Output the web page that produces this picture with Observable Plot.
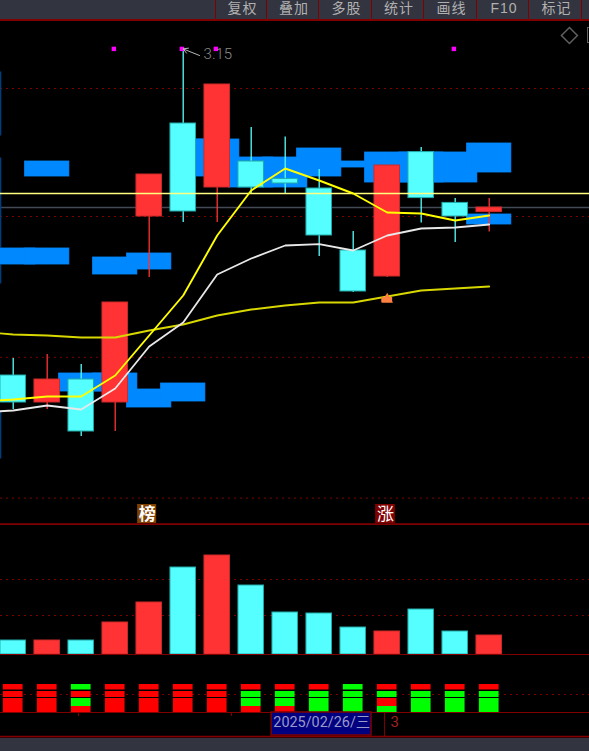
<!DOCTYPE html>
<html lang="zh">
<head>
<meta charset="utf-8">
<script src="https://cdn.jsdelivr.net/npm/d3@7"></script>
<script src="https://cdn.jsdelivr.net/npm/@observablehq/plot@0.6"></script>
<style>
html,body{margin:0;padding:0;background:#000;overflow:hidden}
#c{position:relative;width:589px;height:751px;background:#000;overflow:hidden}
#c svg{position:absolute;left:0;background:transparent;max-width:none}
.h{position:absolute}
.b{position:absolute;top:1px;height:14px;text-align:center;color:#b0b0b0;font:14px/14px "Liberation Sans","Noto Sans CJK SC",sans-serif;letter-spacing:1px}
</style>
</head>
<body>
<div id="c"></div>
<script>
const index = [0,1,2,3,4,5,6,7,8,9,10,11,12,13,14];
const open  = [2.3325,2.265,2.3225,2.265,2.73,2.9625,2.8025,2.8675,2.824,2.8,2.645,2.58,2.891,2.764,2.741];
const close = [2.265,2.3225,2.1925,2.515,2.835,2.7425,3.06,2.8025,2.8125,2.6825,2.5425,2.8575,2.776,2.73,2.7525];
const high  = [2.375,2.385,2.36,2.515,2.835,3.15,3.06,2.9525,2.929,2.8475,2.6925,2.8575,2.9025,2.775,2.775];
const low   = [2.2475,2.2475,2.18,2.1925,2.5775,2.715,2.715,2.7875,2.7875,2.63,2.54,2.5775,2.714,2.665,2.691];

const maIndex = [-1,0,1,2,3,4,5,6,7,8,9,10,11,12,13,14];
const ma5  = [2.2675,2.2725,2.28,2.28,2.3325,2.4325,2.5325,2.6825,2.795,2.85,2.82,2.7875,2.74,2.7375,2.72,2.7325];
const ma10 = [2.24,2.245,2.2575,2.2475,2.3,2.405,2.465,2.585,2.625,2.6575,2.661,2.645,2.6825,2.7,2.7025,2.71];
const ma60 = [2.4425,2.435,2.4325,2.4275,2.4275,2.445,2.46,2.4825,2.4975,2.5075,2.515,2.515,2.53,2.545,2.55,2.555];

const chipIndex = [-1,-1,-1,-1,0,1,1,2,3,3,4,4,5,5,6,7,8,9,10,11,12,13,14,14];
const chipLeft  = [.65,.65,.65,.65,.65,.65,.65,.65,.65,.65,.65,.65,.65,.3,.65,.65,.65,.65,.65,.65,.65,.65,.65,.65];
const chipTop   = [3.09,2.875,2.6075,2.24,2.65,2.8675,2.65,2.3375,2.6275,2.3375,2.6375,2.2975,2.3125,2.9225,2.9225,2.8775,2.8775,2.9,2.8675,2.89,2.89,2.89,2.9125,2.735];
const chipBot   = [2.9325,2.65,2.5625,2.125,2.61,2.83,2.61,2.2925,2.585,2.2925,2.5975,2.2525,2.2675,2.8525,2.83,2.8025,2.8025,2.83,2.8525,2.815,2.815,2.815,2.84,2.71];

const volume = [14,14,14,32,52,87,99,69,42,41,27,23,45,23,19];

const sig1 = ["r","r","g","r","r","r","r","r","r","r","g","r","r","r","r"];
const sig2 = ["r","r","r","r","r","r","r","g","g","g","g","g","g","g","g"];
const sig3 = ["r","r","g","r","r","r","r","g","g","g","g","r","g","g","g"];
const sig4 = ["r","r","r","r","r","r","r","r","r","g","g","g","g","g","g"];
const sigLow  = [22.5,15,6,0];
const sigHigh = [28,21,14,6];

const dotted = [3.05,2.73,2.378,2.026];
const volDotted = [75,39];
const sigDotted = [18];
const yellowLevel = [2.7875];
const greyLevel = [2.7525];
const marks = [3,5,6,13];
const menu = ["复权","叠加","多股","统计","画线","F10","标记"];
const seps = [215,266,318,371,423,476,528,581];

const CYAN="#55ffff", RED="#ff3333", BLUE="#0088ff", DK="#800000";
const xScale = {domain:[-12.7/34,576.3/34],range:[0,589],axis:null};
const base = {width:589,marginTop:0,marginRight:0,marginBottom:0,marginLeft:0,x:xScale};
const colorOf = i => close[i] >= open[i] ? RED : CYAN;
const edgeOf  = i => close[i] >= open[i] ? "#cc2a2a" : "#22aaaa";
const chips = chipIndex.map((_,k)=>k);
const chipX = {x1:k=>chipIndex[k]-chipLeft[k],x2:k=>chipIndex[k]+0.65,y1:k=>chipBot[k],y2:k=>chipTop[k]};

const host = document.getElementById("c");

/* price panel */
const price = Plot.plot({...base,height:525,
  y:{domain:[1.9575,3.27],range:[525,0],axis:null},
  style:{top:"0px",background:"transparent"},
  marks:[
    Plot.ruleY(dotted,{stroke:DK,strokeWidth:1,strokeDasharray:"2,4"}),
    Plot.ruleY(greyLevel,{stroke:"#444a55",strokeWidth:1.5}),
    Plot.rect(chips,{...chipX,fill:k=>chipIndex[k]<0?"#003f80":"#0070d0",stroke:k=>chipIndex[k]<0?"#003f80":"#0070d0",strokeWidth:1}),
    Plot.rect(chips,{...chipX,fill:k=>chipIndex[k]<0?"#003f80":BLUE}),
    Plot.ruleX(index,{x:i=>i,y1:i=>low[i],y2:i=>high[i],stroke:colorOf,strokeWidth:1.3}),
    Plot.rect(index,{x1:i=>i-0.375,x2:i=>i+0.375,y1:i=>open[i],y2:i=>close[i],fill:colorOf,stroke:edgeOf,strokeWidth:1}),
    Plot.ruleY(yellowLevel,{stroke:"#ffff80",strokeWidth:1.3}),
    Plot.line(maIndex,{x:i=>i,y:(_,k)=>ma60[k],stroke:"#d8d800",strokeWidth:1.9}),
    Plot.line(maIndex,{x:i=>i,y:(_,k)=>ma10[k],stroke:"#e8e8e8",strokeWidth:1.8}),
    Plot.line(maIndex,{x:i=>i,y:(_,k)=>ma5[k],stroke:"#ffff00",strokeWidth:1.9}),
    Plot.dot(marks,{x:i=>i-0.04,y:[3.149,3.149,3.149,3.149],symbol:"square",r:2.5,fill:"#ff00ff",stroke:"none"}),
    Plot.arrow([0],{x1:[5.48],y1:[3.1325],x2:[5.0],y2:[3.149],bend:0,headLength:8,stroke:"#b8b8b8",strokeWidth:1}),
    Plot.text(["3.15"],{x:[5.6],y:[3.135],text:d=>d,textAnchor:"start",fill:"#8c8c8c",fontSize:15,fontFamily:"Roboto",fontWeight:300}),
    Plot.rect([0],{x1:[10.84],x2:[11.16],y1:[2.515],y2:[2.5275],fill:"#ff8040"}),
    Plot.dot([11],{x:d=>d,y:[2.5225],symbol:"triangle",r:4.3,fill:"#ff8040",stroke:"none"}),
    Plot.dot([16.36],{x:d=>d,y:[3.1825],symbol:"diamond2",r:7.2,fill:"none",stroke:"#606060",strokeWidth:1.5}),
    Plot.rect([0],{x1:[3.66],x2:[4.22],y1:[1.9625],y2:[2.01],fill:"#804000"}),
    Plot.rect([0],{x1:[10.66],x2:[11.24],y1:[1.9625],y2:[2.01],fill:DK}),
    Plot.text(["榜"],{x:[3.94],y:[1.986],text:d=>d,fill:"#fff",fontSize:17,fontWeight:"bold",fontFamily:"Noto Sans CJK SC"}),
    Plot.text(["涨"],{x:[10.95],y:[1.986],text:d=>d,fill:"#fff",fontSize:17,fontFamily:"Noto Sans CJK SC"}),
    Plot.ruleY([1.9605],{stroke:DK,strokeWidth:2})
  ]});
host.appendChild(price);

/* volume panel */
const vol = Plot.plot({...base,height:130,
  y:{domain:[0,130],range:[129,-1],axis:null},
  style:{top:"525px",background:"transparent"},
  marks:[
    Plot.ruleY(volDotted,{stroke:DK,strokeWidth:1,strokeDasharray:"2,4"}),
    Plot.rect(index,{x1:i=>i-0.375,x2:i=>i+0.375,y1:0,y2:i=>volume[i],fill:colorOf,stroke:edgeOf,strokeWidth:1}),
    Plot.ruleY([0],{stroke:DK,strokeWidth:1})
  ]});
host.appendChild(vol);

/* signal panel */
const rows = index.flatMap(i=>[sig1[i],sig2[i],sig3[i],sig4[i]].map((s,k)=>({i,s,k})));
const sig = Plot.plot({...base,height:96,
  y:{domain:[-39,57],range:[96,0],axis:null},
  style:{top:"655px",background:"transparent"},
  marks:[
    Plot.ruleY(sigDotted,{stroke:DK,strokeWidth:1,strokeDasharray:"2,4"}),
    Plot.rect(rows,{x1:d=>d.i-0.29,x2:d=>d.i+0.29,y1:d=>sigLow[d.k],y2:d=>sigHigh[d.k],fill:d=>d.s==="r"?"#ff0000":"#00ff00"}),
    Plot.ruleY([0],{stroke:DK,strokeWidth:1}),
    Plot.ruleX([1.92,6.42],{y1:0,y2:-4,stroke:DK}),
    Plot.rect([0],{x1:[7.6],x2:[10.54],y1:[-23],y2:[0],fill:"#000080",stroke:DK,strokeWidth:1.5}),
    Plot.ruleX([10.92],{y1:0,y2:-25,stroke:DK}),
    Plot.ruleY([-24,-26],{stroke:DK,strokeWidth:1.5}),
    Plot.text(["2025/02/26/三"],{x:[7.65],y:[-9.5],text:d=>d,textAnchor:"start",fill:"#9a9ac8",fontSize:14.4,fontFamily:"Roboto, Noto Sans CJK SC"}),
    Plot.text(["3"],{x:[11.1],y:[-10],text:d=>d,textAnchor:"start",fill:"#a02020",fontSize:15,fontFamily:"Roboto"})
  ]});
host.appendChild(sig);

/* toolbar and footer chrome */
function box(css){const d=document.createElement("div");d.className="h";d.style.cssText=css;host.appendChild(d);return d;}
box("left:0;top:0;width:589px;height:19px;background:#32343f;border-bottom:2px solid #800000");
box("left:0;top:738px;width:589px;height:13px;background:#32343f");
box("left:587px;top:27px;width:4px;height:14px;border:1px solid #606060");
seps.forEach(x=>box(`left:${x}px;top:0;width:1px;height:20px;background:#800000`));
menu.forEach((t,k)=>{const d=document.createElement("div");d.className="b";d.textContent=t;
  d.style.left=(seps[k]+2)+"px";d.style.width=(seps[k+1]-seps[k])+"px";host.appendChild(d);});
</script>
</body>
</html>
